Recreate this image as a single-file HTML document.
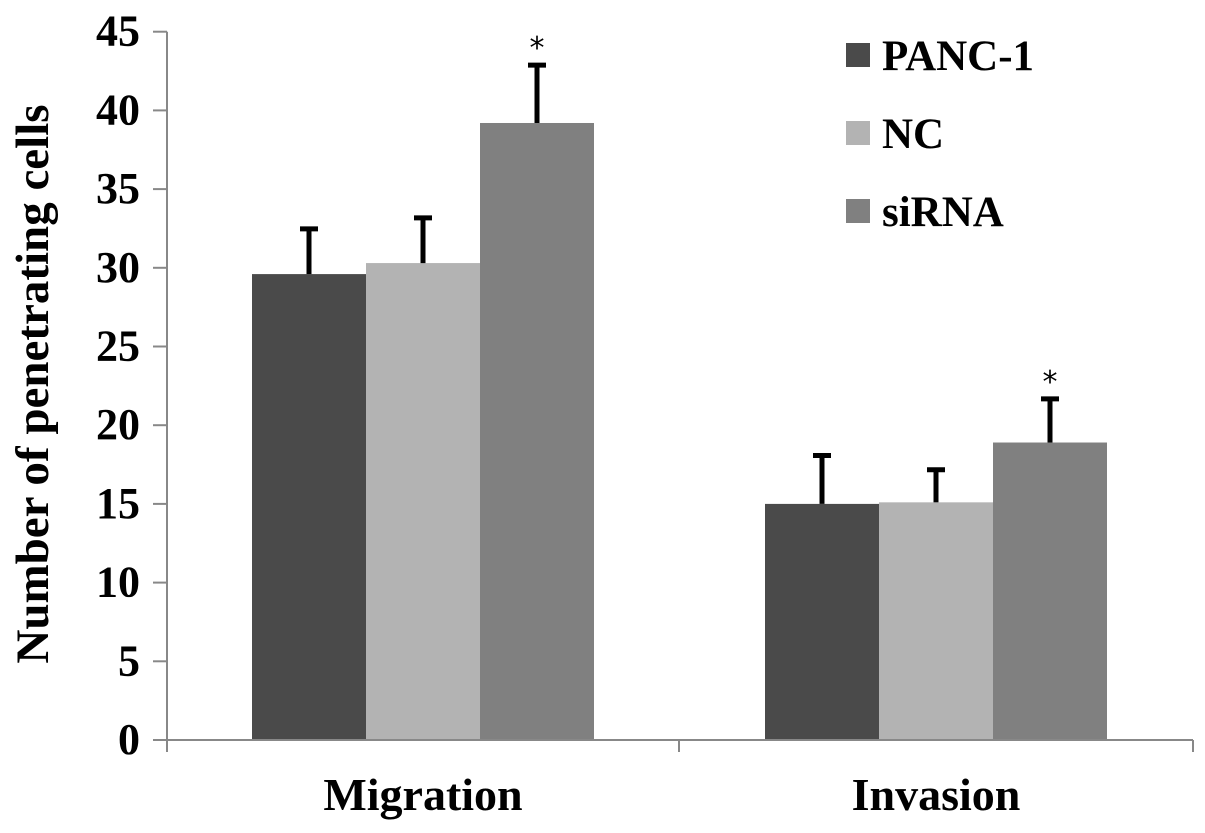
<!DOCTYPE html>
<html><head><meta charset="utf-8"><style>
body{margin:0;background:#fff}
svg{display:block;font-family:"Liberation Serif",serif;font-weight:bold}
</style></head><body>
<svg id="chart" width="1205" height="833" viewBox="0 0 1205 833"></svg>
<script>
const categories=["Migration","Invasion"];
const seriesNames=["PANC-1","NC","siRNA"];
const panc1=[29.6,15.0];
const nc=[30.3,15.1];
const sirna=[39.2,18.9];
const panc1Err=[3.0,3.2];
const ncErr=[3.0,2.2];
const sirnaErr=[3.8,2.9];
const significant=[[false,false,true],[false,false,true]];
const yTicks=[0,5,10,15,20,25,30,35,40,45];
const colors=["#4a4a4a","#b3b3b3","#808080"];
const NS="http://www.w3.org/2000/svg";
const svg=document.getElementById('chart');
const y0=740,pxPer=15.74;
function y(v){return y0-v*pxPer;}
const axisX=167,groupStart=[252,765],barW=114;
function el(t,a,txt){const e=document.createElementNS(NS,t);for(const k in a)e.setAttribute(k,a[k]);if(txt!==undefined)e.textContent=txt;svg.appendChild(e);return e;}
let e;
e=el('line',{x1:axisX,y1:y(45),x2:axisX,y2:y0,stroke:'#888','stroke-width':2});


yTicks.forEach(t=>{
 e=el('line',{x1:153,y1:y(t),x2:axisX,y2:y(t),stroke:'#888','stroke-width':2});
 
 
 e=el('text',{x:140,y:y(t)+14,'text-anchor':'end','font-size':44},t);
 
 
});
e=el('text',{transform:'translate(48,384) rotate(-90)','text-anchor':'middle','font-size':47},'Number of penetrating cells');


const vals=[panc1,nc,sirna],errs=[panc1Err,ncErr,sirnaErr];
categories.forEach((c,ci)=>{
 for(let s=0;s<3;s++){
  const x=groupStart[ci]+s*barW,v=vals[s][ci],top=v+errs[s][ci],cx=x+barW/2;
  e=el('rect',{x:x,y:y(v),width:barW,height:y0-y(v),fill:colors[s]});
  
  
  e=el('line',{x1:cx,y1:y(v),x2:cx,y2:y(top),stroke:'#000','stroke-width':5});
  
  
  e=el('line',{x1:cx-9,y1:y(top)+2,x2:cx+9,y2:y(top)+2,stroke:'#000','stroke-width':5});
  
  
  if(significant[ci][s]){
   e=el('text',{x:cx,y:y(top)-5,'text-anchor':'middle','font-size':30,'font-weight':'normal','font-family':'DejaVu Sans, sans-serif'},'*');
   
   
  }
 }
 e=el('text',{x:groupStart[ci]+1.5*barW,y:810,'text-anchor':'middle','font-size':46},c);
 
 
});
e=el('line',{x1:axisX,y1:y0,x2:1193,y2:y0,stroke:'#888','stroke-width':2});


[axisX,679,1193].forEach(x=>{
 e=el('line',{x1:x,y1:y0,x2:x,y2:y0+12,stroke:'#888','stroke-width':2});
 
 
});
seriesNames.forEach((n,i)=>{
 const cy=55+i*78;
 e=el('rect',{x:846,y:cy-12,width:24,height:24,fill:colors[i]});
 
 
 e=el('text',{x:882,y:cy+15,'font-size':43},n);
 
 
});
</script>
</body></html>
